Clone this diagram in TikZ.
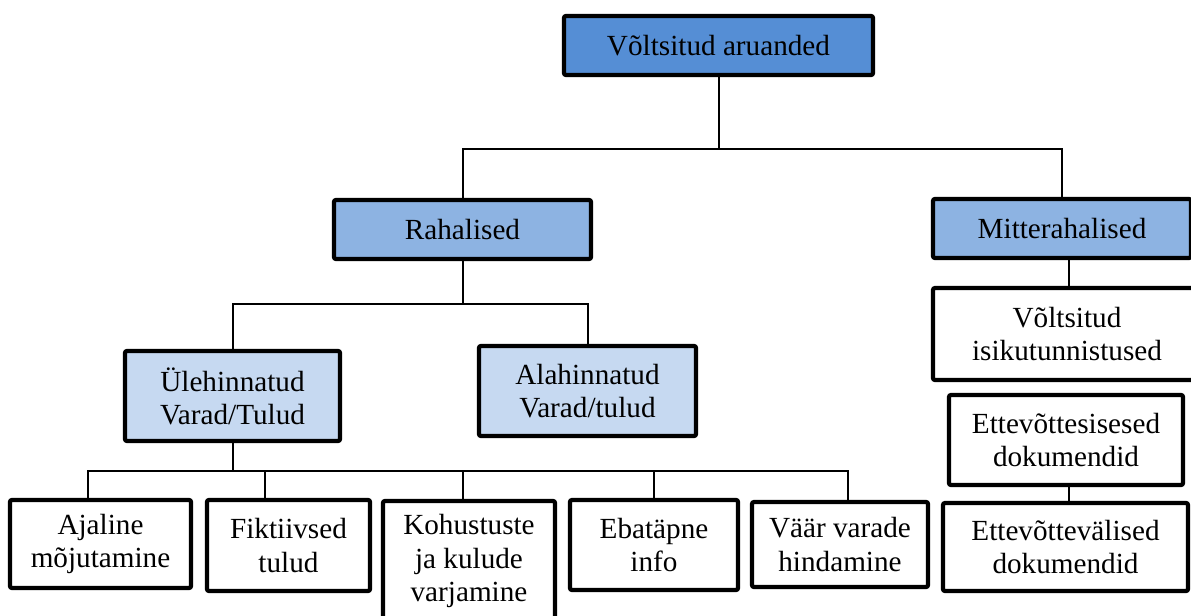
\documentclass[tikz,border=0pt]{standalone}
\usepackage{fontspec}
\setmainfont{Liberation Serif}
\definecolor{topfill}{RGB}{85,142,213}
\definecolor{midfill}{RGB}{141,179,226}
\definecolor{lowfill}{RGB}{198,217,241}
\begin{document}
\begin{tikzpicture}[x=0.5pt,y=-0.5pt,
  box/.style={draw=black, line width=2.1pt, rounded corners=1pt, inner sep=0pt,
    align=center, font=\fontsize{14.6}{16.6}\selectfont, fill=white},
  link/.style={draw=black, line width=1pt}]
\useasboundingbox (0,0) rectangle (1191,616);

% level 0
\node[box, fill=topfill, minimum width=154.5pt, minimum height=29.5pt] (top) at (718.5,45.5) {Võltsitud aruanded};

% level 1
\node[box, fill=midfill, minimum width=128.5pt, minimum height=29.5pt] (rah) at (462.5,229.5) {Rahalised};
\node[box, fill=midfill, minimum width=129pt, minimum height=29.5pt] (mit) at (1062,228.5) {Mitterahalised};

% level 2
\node[box, fill=lowfill, minimum width=107.5pt, minimum height=45pt] (ule) at (232.5,396) {Ülehinnatud\\Varad/Tulud};
\node[box, fill=lowfill, minimum width=108.5pt, minimum height=45pt] (ala) at (587.5,391) {Alahinnatud\\Varad/tulud};

% non-monetary column
\node[box, minimum width=134pt, minimum height=46pt] (vol) at (1067,334) {Võltsitud\\isikutunnistused};
\node[box, minimum width=117pt, minimum height=45pt] (ets) at (1066,440) {Ettevõttesisesed\\dokumendid};
\node[box, minimum width=122.5pt, minimum height=44pt] (etv) at (1065.5,547) {Ettevõttevälised\\dokumendid};

% level 3
\node[box, minimum width=90.5pt, minimum height=44pt] (aja) at (100.5,544) {Ajaline\\mõjutamine};
\node[box, minimum width=81.5pt, minimum height=45.5pt] (fik) at (288.5,545.5) {Fiktiivsed\\tulud};
\node[box, minimum width=86pt, minimum height=60pt] (koh) at (469,561) {Kohustuste\\ja kulude\\varjamine};
\node[box, minimum width=84pt, minimum height=45pt] (eba) at (654,545) {Ebatäpne\\info};
\node[box, minimum width=88pt, minimum height=42.5pt] (vaa) at (840,544.5) {Väär varade\\hindamine};

% connectors
\draw[link] (top.south) -- ++(0,72) coordinate (j1) -| (rah.north);
\draw[link] (j1) -| (mit.north);

\draw[link] (rah.south) -- ++(0,43) coordinate (j2) -| (ule.north);
\draw[link] (j2) -| (ala.north);

\coordinate (a1) at ([xshift=-6.25pt]aja.north);
\coordinate (f1) at ([xshift=-11.75pt]fik.north);
\coordinate (k1) at ([xshift=-3pt]koh.north);
\coordinate (v1) at ([xshift=4pt]vaa.north);
\draw[link] (ule.south) -- ++(0,28) coordinate (j3) -| (a1);
\draw[link] (j3) -| (f1);
\draw[link] (j3) -| (k1);
\draw[link] (j3) -| (eba.north);
\draw[link] (j3) -| (v1);

\coordinate (m1) at ([xshift=3.5pt]mit.south);
\draw[link] (m1) -- (m1 |- vol.north);
\coordinate (e1) at ([xshift=1.5pt]ets.south);
\draw[link] (e1) -- (e1 |- etv.north);
\end{tikzpicture}
\end{document}
